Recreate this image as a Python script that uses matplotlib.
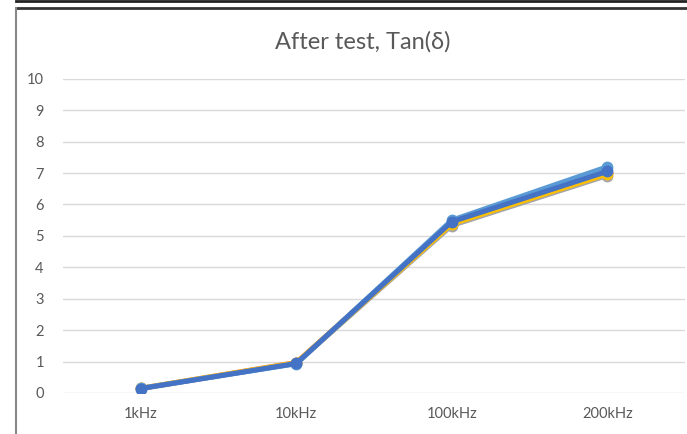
import matplotlib.pyplot as plt
from matplotlib.lines import Line2D

plt.rcParams['font.family'] = ['Lato', 'DejaVu Sans']

freqs = ['1kHz', '10kHz', '100kHz', '200kHz']
s_orange = [0.15, 0.97, 5.40, 7.00]
s_gray = [0.14, 0.95, 5.33, 6.92]
s_yellow = [0.15, 0.96, 5.38, 6.97]
s_lightblue = [0.15, 0.93, 5.50, 7.20]
s_blue = [0.14, 0.94, 5.45, 7.05]

series = [
    (s_orange, '#ED7D31'),
    (s_gray, '#A5A5A5'),
    (s_yellow, '#FFC000'),
    (s_lightblue, '#5B9BD5'),
    (s_blue, '#4472C4'),
]

fig = plt.figure(figsize=(6.87, 4.34), dpi=100)
ax = fig.add_axes([0.092, 0.0945, 0.905, 0.724])

x = list(range(len(freqs)))
for vals, col in series:
    ax.plot(x, vals, color=col, lw=3.6, marker='o', ms=7.5, solid_capstyle='round')

ax.set_xlim(-0.5, len(freqs) - 0.5)
ax.set_ylim(0, 10)
ax.set_yticks(range(0, 11))
ax.set_xticks(x)
ax.set_xticklabels(freqs)
ax.grid(axis='y', color='#D9D9D9', lw=1)
ax.set_axisbelow(True)
for s in ax.spines.values():
    s.set_visible(False)
ax.tick_params(length=0, colors='#595959', labelsize=10.5)
ax.tick_params(axis='y', pad=14)
ax.tick_params(axis='x', pad=10)

fig.text(0.528, 0.903, 'After test, Tan(δ)', ha='center', va='center',
         fontsize=17, color='#595959')

# frame lines from the screenshot
fig.add_artist(Line2D([0.023, 1.0], [0.998, 0.998], color='#222222', lw=2))
fig.add_artist(Line2D([0.023, 1.0], [0.981, 0.981], color='#333333', lw=2))
fig.add_artist(Line2D([0.024, 0.024], [0.0, 0.981], color='#888888', lw=1.5))

fig.savefig('out.png', dpi=100)
